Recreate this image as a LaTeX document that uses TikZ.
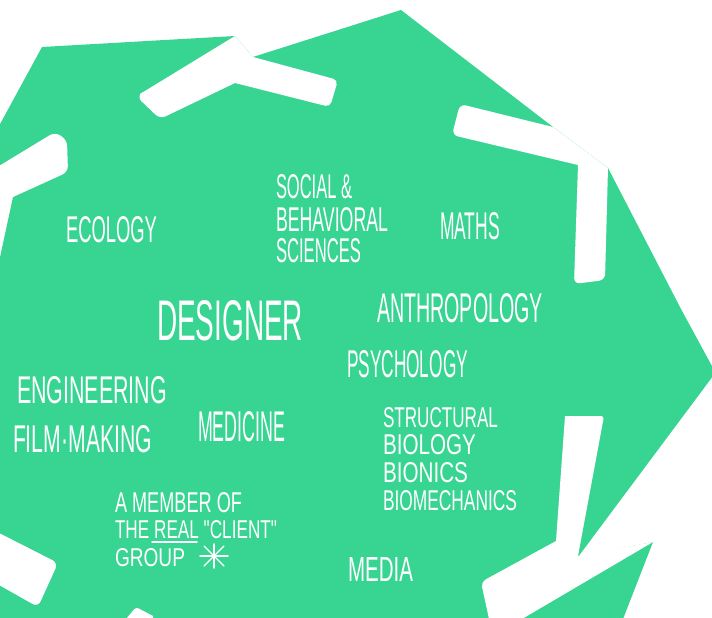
\documentclass[tikz,border=0pt]{standalone}
\usepackage{fontspec}
\setmainfont{Liberation Sans}
\usepackage{graphicx}
\definecolor{blobgreen}{RGB}{56,212,146}
\newcommand{\hwtext}[3]{\resizebox{#1pt}{#2pt}{#3}}
\begin{document}
\begin{tikzpicture}[x=1pt,y=-1pt,
  lbl/.style={anchor=north west, inner sep=0pt, outer sep=0pt, text=white},
  notch/.style={fill=white},
  penline/.style={draw=white, line width=1.4pt, line cap=round}]
\useasboundingbox (0,0) rectangle (712,618);
\fill[white] (0,0) rectangle (712,618);
% green blob
\fill[blobgreen] (42,47) -- (235,36) -- (253,57) -- (401,10) -- (553,127) -- (608,168)
  -- (681,309) -- (713,368) -- (713,376) -- (578,557) -- (653,542) -- (623,619)
  -- (-1,619) -- (-1,262) -- (13,197) -- (-1,185) -- (-1,126) -- cycle;
% white notches
\fill[notch] (235,36) -- (140,94) [rounded corners=6pt] -- (137,97) -- (160,119)
  [sharp corners] -- (235,83) [rounded corners=5pt] -- (330,107) -- (338,80)
  [sharp corners] -- (253,57) -- cycle;
\fill[notch] (553,127) [rounded corners=6pt] -- (460,104) -- (452,135)
  [sharp corners] -- (578,165) [rounded corners=6pt] -- (574,284) -- (605,280)
  [sharp corners] -- (608,168) -- cycle;
\fill[notch] (-1,166) [rounded corners=6pt] -- (55,132) -- (67,140) -- (68,172)
  [sharp corners] -- (13,197) -- (-1,205) -- cycle;
\fill[notch] (-1,533) [rounded corners=6pt] -- (58,563) -- (38,607)
  [sharp corners] -- (-1,585) -- cycle;
\fill[notch] (126,619) [rounded corners=3pt] -- (136,607) [sharp corners] -- (153,616) -- (153,619) -- cycle;
\fill[notch] (565,416) [rounded corners=3pt] -- (604,416) [sharp corners] -- (578,556)
  -- (653,542) -- (522,619) -- (489,619) [rounded corners=5pt] -- (481,582)
  [sharp corners] -- (556,541) -- cycle;
% labels
\node[lbl] (ecology) at (66,216) {\hwtext{91}{26}{ECOLOGY}};
\node[lbl] (social1) at (276,174) {\hwtext{76}{24}{SOCIAL \&}};
\node[lbl] (social2) at (276,207) {\hwtext{112}{24}{BEHAVIORAL}};
\node[lbl] (social3) at (276,238) {\hwtext{85}{24}{SCIENCES}};
\node[lbl] (maths) at (440,212) {\hwtext{60}{27}{MATHS}};
\node[lbl] (designer) at (157,300) {\hwtext{146}{40}{DESIGNER}};
\node[lbl] (anthro) at (377,293) {\hwtext{166}{29}{ANTHROPOLOGY}};
\node[lbl] (psych) at (347,350) {\hwtext{121}{27}{PSYCHOLOGY}};
\node[lbl] (struct1) at (383,407) {\hwtext{115}{20}{STRUCTURAL}};
\node[lbl] (struct2) at (383,434) {\hwtext{93}{20}{BIOLOGY}};
\node[lbl] (bionics) at (383,462) {\hwtext{85}{20}{BIONICS}};
\node[lbl] (biomech) at (383,490) {\hwtext{134}{20}{BIOMECHANICS}};
\node[lbl] (engineering) at (17,376) {\hwtext{150}{27}{ENGINEERING}};
\node[lbl] (film) at (13,425) {\hwtext{139}{27}{FILM·MAKING}};
\node[lbl] (medicine) at (198,411) {\hwtext{87}{30}{MEDICINE}};
\node[lbl] (member1) at (115,492) {\hwtext{127}{20}{A MEMBER OF}};
\node[lbl] (member2) at (115,520) {\hwtext{162}{18}{THE REAL \textquotedbl CLIENT\textquotedbl}};
\node[lbl] (member3) at (115,548) {\hwtext{70}{18}{GROUP}};
\node[lbl] (media) at (348,557) {\hwtext{65}{24}{MEDIA}};
% underline and asterisk
\coordinate (ulA) at (152,542);
\coordinate (ulB) at (197,542);
\draw[penline] (ulA) -- (ulB);
\coordinate (star) at (214,556);
\draw[penline] (200,556) -- (228,556);
\draw[penline] (214,544) -- (214,568);
\draw[penline] (204,546) -- (224,566);
\draw[penline] (204,566) -- (224,546);
\end{tikzpicture}
\end{document}
